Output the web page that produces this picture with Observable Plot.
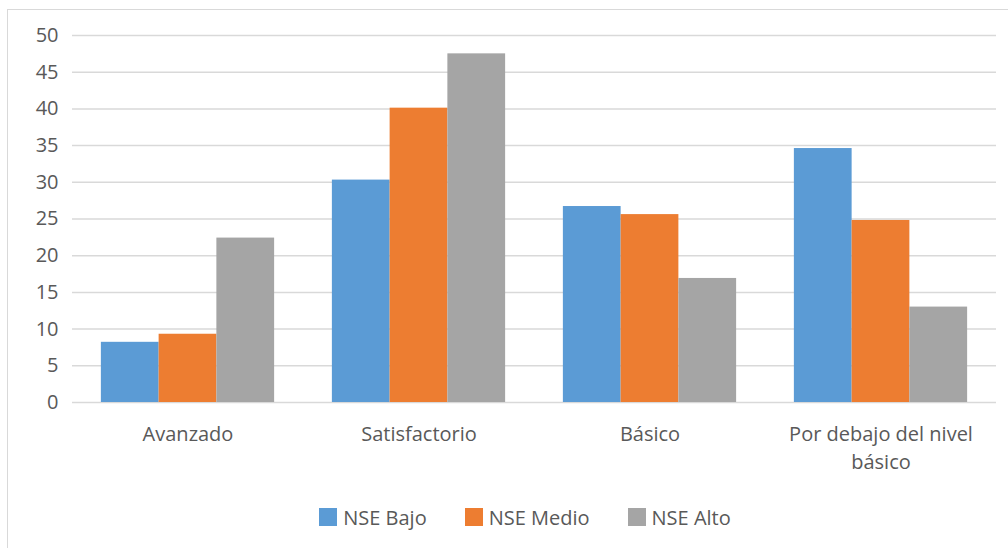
<!DOCTYPE html>
<html>
<head>
<meta charset="utf-8">
<script src="https://cdn.jsdelivr.net/npm/d3@7"></script>
<script src="https://cdn.jsdelivr.net/npm/@observablehq/plot@0.6"></script>
<style>
  html, body { margin: 0; padding: 0; background: #fff; }
  #wrap { position: relative; width: 1008px; height: 548px; overflow: hidden; font-family: "Open Sans", sans-serif; color: #595959; }
  #frame { position: absolute; left: 7px; top: 9px; width: 1010px; height: 550px; border: 1px solid #d9d9d9; box-sizing: border-box; pointer-events: none; }
  #chart svg { display: block; }
  #legend { display: flex; justify-content: center; align-items: center; height: 54px; padding-left: 42px; font-size: 20px; color: #595959; }
  .item { display: flex; align-items: center; margin: 0 19px; }
  .sw { width: 18px; height: 18px; margin-right: 6px; }
</style>
</head>
<body>
<div id="wrap">
  <div id="frame"></div>
  <div id="chart"></div>
  <div id="legend"></div>
</div>
<script>
// Performance levels (categories) and socioeconomic groups (series)
const categories = ["Avanzado", "Satisfactorio", "Básico", "Por debajo del nivel básico"];
const categoryLabels = ["Avanzado", "Satisfactorio", "Básico", "Por debajo del nivel\nbásico"];
const series = ["NSE Bajo", "NSE Medio", "NSE Alto"];
const nseBajo = [8.2, 30.3, 26.7, 34.6];
const nseMedio = [9.3, 40.1, 25.6, 24.8];
const nseAlto = [22.4, 47.5, 16.9, 13.0];
const colors = ["#5B9BD5", "#ED7D31", "#A5A5A5"];
const yTicks = [0, 5, 10, 15, 20, 25, 30, 35, 40, 45, 50];

// Long-format table for the grouped bars
const valuesBySeries = [nseBajo, nseMedio, nseAlto];
const data = [];
categories.forEach((c, i) => {
  series.forEach((s, j) => data.push({category: c, series: s, value: valuesBySeries[j][i]}));
});
const labelOf = new Map(categories.map((c, i) => [c, categoryLabels[i]]));

const chart = Plot.plot({
  width: 1008,
  height: 490,
  marginLeft: 72,
  marginRight: 12,
  marginTop: 35,
  marginBottom: 88,
  style: {fontFamily: "'Open Sans', sans-serif", fontSize: "20px", color: "#595959", background: "transparent"},
  fx: {domain: categories, paddingInner: 0, paddingOuter: 0, round: false, label: null},
  x: {domain: series, paddingInner: 0, paddingOuter: 0.5, round: false, axis: null},
  y: {domain: [0, 50], label: null},
  color: {domain: series, range: colors},
  marks: [
    Plot.gridY(yTicks, {stroke: "#d9d9d9", strokeOpacity: 1, strokeWidth: 1.5}),
    Plot.barY(data, {fx: "category", x: "series", y: "value", fill: "series"}),
    Plot.axisY(yTicks, {tickSize: 0, tickPadding: 14, fontSize: 20, fill: "#595959", label: null}),
    Plot.axisFx({anchor: "bottom", tickSize: 0, tickPadding: 19, fontSize: 20, fill: "#595959",
      lineHeight: 1.4, tickFormat: (c) => labelOf.get(c), label: null})
  ]
});
document.getElementById("chart").appendChild(chart);

// Legend below the plot
const legend = document.getElementById("legend");
series.forEach((s, i) => {
  const item = document.createElement("div");
  item.className = "item";
  const sw = document.createElement("div");
  sw.className = "sw";
  sw.style.background = colors[i];
  const label = document.createElement("span");
  label.textContent = s;
  item.appendChild(sw);
  item.appendChild(label);
  legend.appendChild(item);
});
</script>
</body>
</html>
